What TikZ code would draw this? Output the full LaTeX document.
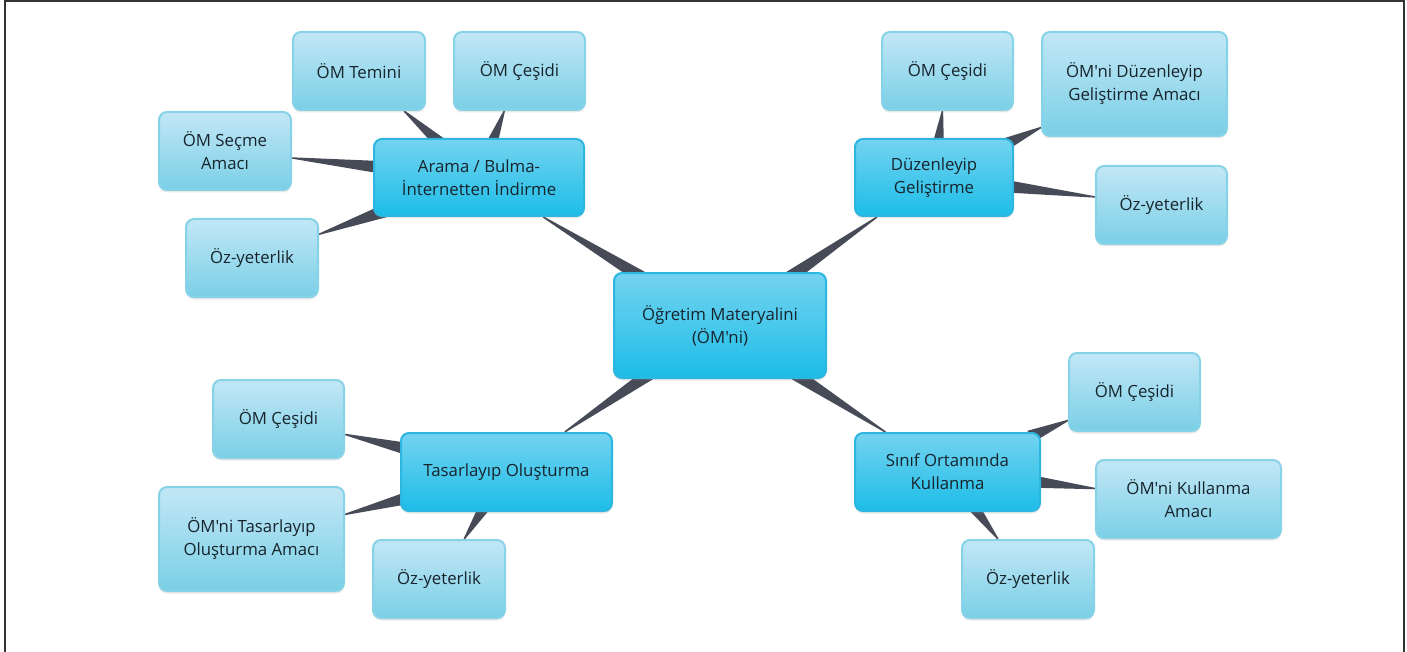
\documentclass[tikz,border=0pt]{standalone}
\usepackage{fontspec}
\setmainfont{Open Sans}[Ligatures=TeXOff]
\usetikzlibrary{calc,backgrounds,shadows}
\definecolor{mainTop}{HTML}{74D3F0}
\definecolor{mainBot}{HTML}{1CBDE8}
\definecolor{mainLine}{HTML}{2DB7E0}
\definecolor{subTop}{HTML}{C2E7F6}
\definecolor{subBot}{HTML}{7ACFE6}
\definecolor{subLine}{HTML}{86D3E8}
\definecolor{wedgeCol}{HTML}{464B57}
\definecolor{txt}{HTML}{17242C}
\definecolor{frameCol}{HTML}{333333}
\tikzset{
  box/.style={rectangle, rounded corners=8pt, align=center, inner sep=0pt,
    line width=2pt, text=txt, font=\fontsize{16.8}{23}\selectfont,
    drop shadow={opacity=0.18, shadow xshift=0pt, shadow yshift=-2.5pt}},
  mainbox/.style={box, draw=mainLine, top color=mainTop, bottom color=mainBot},
  subbox/.style={box, draw=subLine, top color=subTop, bottom color=subBot},
  wedgefill/.style={fill=wedgeCol}
}
\newcommand{\wedgeconn}[2]{%
  \path (#1) -- (#2) coordinate[pos=0] (ws) coordinate[pos=1] (we);
  \coordinate (wb) at ($(ws)!-12pt!(we)$);
  \fill[wedgefill] ($(wb)!6.5pt!90:(we)$) -- ($(we)!0.7pt!-90:(wb)$) -- ($(we)!0.7pt!90:(wb)$) -- ($(wb)!6.5pt!-90:(we)$) -- cycle;}
\begin{document}
\begin{tikzpicture}[x=1pt,y=-1pt]
\useasboundingbox (0,0) rectangle (1407,652);
\draw[frameCol, line width=2pt] (5,652) -- (5,1.5) -- (1404,1.5) -- (1404,652);

% main nodes
\node[mainbox, minimum width=212pt, minimum height=105pt] (center) at (720,325.5) {Öğretim Materyalini\\(ÖM'ni)};
\node[mainbox, minimum width=210pt, minimum height=77pt] (arama) at (479,177.5) {Arama / Bulma-\\İnternetten İndirme};
\node[mainbox, minimum width=158pt, minimum height=77pt] (duz) at (934,177.5) {Düzenleyip\\Geliştirme};
\node[mainbox, minimum width=211pt, minimum height=78pt] (tas) at (506.5,472) {Tasarlayıp Oluşturma};
\node[mainbox, minimum width=185pt, minimum height=78pt] (sinif) at (947.5,472) {Sınıf Ortamında\\Kullanma};

% Arama children
\node[subbox, minimum width=132pt, minimum height=78pt] (temini) at (359,71) {ÖM Temini};
\node[subbox, minimum width=131pt, minimum height=78pt] (cesA) at (519.5,71) {ÖM Çeşidi};
\node[subbox, minimum width=132pt, minimum height=78pt] (secme) at (225,151) {ÖM Seçme\\Amacı};
\node[subbox, minimum width=132pt, minimum height=78pt] (ozA) at (252,258) {Öz-yeterlik};

% Duzenleyip children
\node[subbox, minimum width=131pt, minimum height=78pt] (cesD) at (947.5,71) {ÖM Çeşidi};
\node[subbox, minimum width=185pt, minimum height=104pt] (duzAm) at (1134.5,84) {ÖM'ni Düzenleyip\\Geliştirme Amacı};
\node[subbox, minimum width=131pt, minimum height=78pt] (ozD) at (1161.5,205) {Öz-yeterlik};

% Tasarlayip children
\node[subbox, minimum width=131pt, minimum height=78pt] (cesT) at (278.5,419) {ÖM Çeşidi};
\node[subbox, minimum width=185pt, minimum height=104pt] (tasAm) at (251.5,539) {ÖM'ni Tasarlayıp\\Oluşturma Amacı};
\node[subbox, minimum width=132pt, minimum height=78pt] (ozT) at (439,579) {Öz-yeterlik};

% Sinif children
\node[subbox, minimum width=131pt, minimum height=78pt] (cesS) at (1134.5,392) {ÖM Çeşidi};
\node[subbox, minimum width=185pt, minimum height=78pt] (kulAm) at (1188.5,499) {ÖM'ni Kullanma\\Amacı};
\node[subbox, minimum width=132pt, minimum height=78pt] (ozS) at (1028,579) {Öz-yeterlik};

\begin{pgfonlayer}{background}
\wedgeconn{center}{arama}
\wedgeconn{center}{duz}
\wedgeconn{center}{tas}
\wedgeconn{center}{sinif}
\wedgeconn{arama}{temini}
\wedgeconn{arama}{cesA}
\wedgeconn{arama}{secme}
\wedgeconn{arama}{ozA}
\wedgeconn{duz}{cesD}
\wedgeconn{duz}{duzAm}
\wedgeconn{duz}{ozD}
\wedgeconn{tas}{cesT}
\wedgeconn{tas}{tasAm}
\wedgeconn{tas}{ozT}
\wedgeconn{sinif}{cesS}
\wedgeconn{sinif}{kulAm}
\wedgeconn{sinif}{ozS}
\end{pgfonlayer}
\end{tikzpicture}
\end{document}
